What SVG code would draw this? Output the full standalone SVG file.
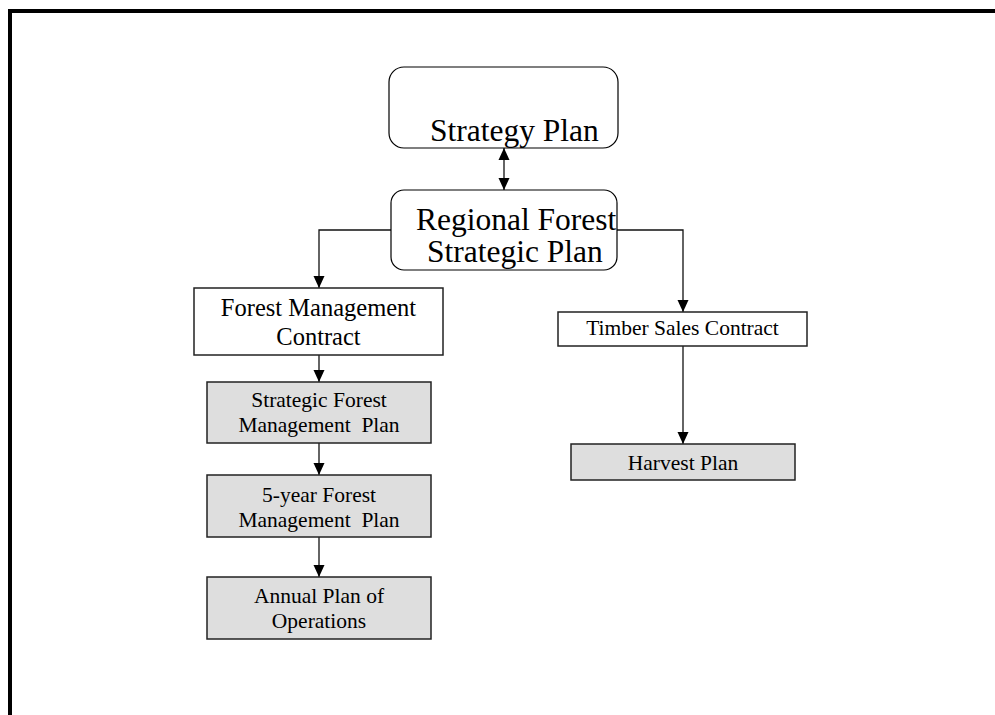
<svg xmlns="http://www.w3.org/2000/svg" width="995" height="715" viewBox="0 0 995 715">
<style>
.big{font-family:"Liberation Serif","Times New Roman",serif;font-size:31.5px;fill:#000}
.mid{font-family:"Liberation Serif","Times New Roman",serif;font-size:24.5px;fill:#000;text-anchor:middle}
.sm{font-family:"Liberation Serif","Times New Roman",serif;font-size:21.5px;fill:#000;text-anchor:middle}
.rbox{fill:#fff;stroke:#000;stroke-width:1.2}
.wbox{fill:#fff;stroke:#222;stroke-width:1.5}
.gbox{fill:#dedede;stroke:#222;stroke-width:1.5}
.conn{fill:none;stroke:#111;stroke-width:1.3}
</style>
<defs>
<marker id="ah" markerUnits="userSpaceOnUse" markerWidth="12" markerHeight="12" viewBox="0 0 12 12" refX="12" refY="6" orient="auto-start-reverse">
<path d="M0,0.5 L12,6 L0,11.5 Z" fill="#000"/>
</marker>
</defs>
<rect x="0" y="0" width="995" height="715" fill="#fff"/>
<rect id="frame" x="10" y="11" width="1000" height="720" fill="none" stroke="#000" stroke-width="4"/>
<g id="connectors">
<line class="conn" x1="504" y1="148" x2="504" y2="190" marker-start="url(#ah)" marker-end="url(#ah)"/>
<polyline class="conn" points="391,230 319,230 319,288" marker-end="url(#ah)"/>
<polyline class="conn" points="617,230 683,230 683,312" marker-end="url(#ah)"/>
<line class="conn" x1="319" y1="355" x2="319" y2="382" marker-end="url(#ah)"/>
<line class="conn" x1="319" y1="443" x2="319" y2="475" marker-end="url(#ah)"/>
<line class="conn" x1="319" y1="537" x2="319" y2="577" marker-end="url(#ah)"/>
<line class="conn" x1="683" y1="346" x2="683" y2="444" marker-end="url(#ah)"/>
</g>
<g id="strategy-plan">
<rect class="rbox" x="389" y="67" width="229" height="81" rx="15"/>
<text class="big" x="430" y="141">Strategy Plan</text>
</g>
<g id="regional-forest-strategic-plan">
<rect class="rbox" x="391" y="190" width="226" height="80" rx="13"/>
<text class="big" x="416" y="230">Regional Forest</text>
<text class="big" x="427" y="262">Strategic Plan</text>
</g>
<g id="forest-management-contract">
<rect class="wbox" x="194" y="288" width="249" height="67"/>
<text class="mid" x="318.5" y="316">Forest Management</text>
<text class="mid" x="318.5" y="345">Contract</text>
</g>
<g id="strategic-forest-management-plan">
<rect class="gbox" x="207" y="382" width="224" height="61"/>
<text class="sm" x="319" y="407">Strategic Forest</text>
<text class="sm" x="319" y="432" xml:space="preserve">Management  Plan</text>
</g>
<g id="five-year-forest-management-plan">
<rect class="gbox" x="207" y="475" width="224" height="62"/>
<text class="sm" x="319" y="502">5-year Forest</text>
<text class="sm" x="319" y="527" xml:space="preserve">Management  Plan</text>
</g>
<g id="annual-plan-of-operations">
<rect class="gbox" x="207" y="577" width="224" height="62"/>
<text class="sm" x="319" y="603">Annual Plan of</text>
<text class="sm" x="319" y="628">Operations</text>
</g>
<g id="timber-sales-contract">
<rect class="wbox" x="558" y="312" width="249" height="34"/>
<text class="sm" x="682.5" y="335">Timber Sales Contract</text>
</g>
<g id="harvest-plan">
<rect class="gbox" x="571" y="444" width="224" height="36"/>
<text class="sm" x="683" y="470">Harvest Plan</text>
</g>
</svg>
